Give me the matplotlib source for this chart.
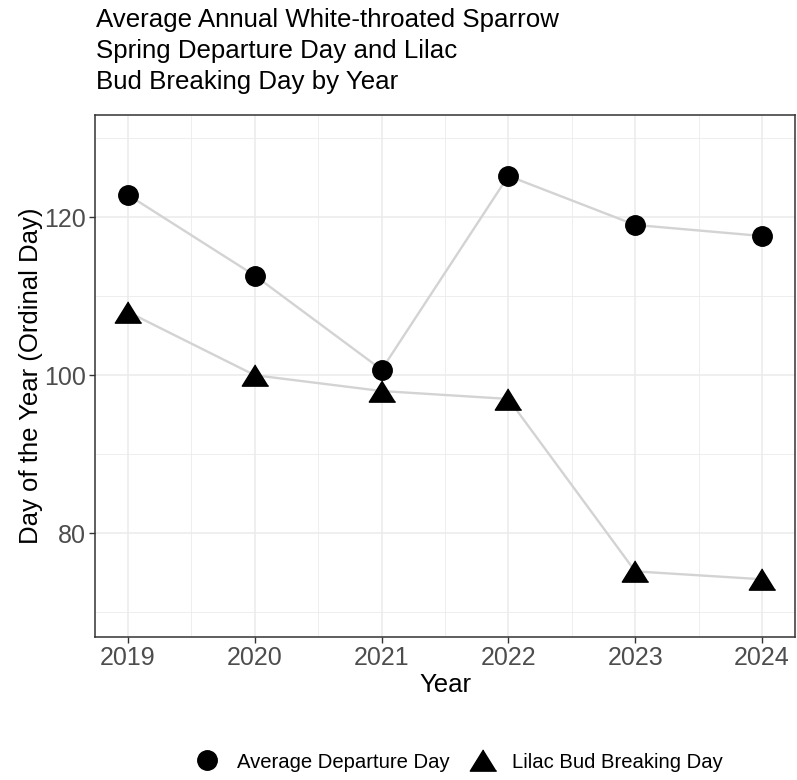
import matplotlib
matplotlib.use("Agg")
import matplotlib.pyplot as plt
import matplotlib.ticker as mticker
from matplotlib.lines import Line2D

# data
years = [2019, 2020, 2021, 2022, 2023, 2024]
departure_day = [122.8, 112.6, 100.7, 125.2, 119.0, 117.6]
lilac_day = [108.0, 100.0, 98.0, 97.0, 75.2, 74.2]

plt.rcParams["font.family"] = ["Liberation Sans", "DejaVu Sans"]

LINE_COLOR = "#d3d3d3"
GRID_COLOR = "#ebebeb"
TRI = [(0, 1), (-1.24, -1), (1.24, -1)]   # wider-than-tall triangle like ggplot shape 17

fig = plt.figure(figsize=(7.97, 7.8), dpi=100)
ax = fig.add_axes([95 / 797, 1 - 637 / 780, 700 / 797, 522 / 780])

ax.plot(years, departure_day, color=LINE_COLOR, lw=1.7, zorder=2)
ax.plot(years, lilac_day, color=LINE_COLOR, lw=1.7, zorder=2)
ax.plot(years, departure_day, linestyle="none", marker="o", markersize=14,
        color="black", zorder=3)
ax.plot(years, lilac_day, linestyle="none", marker=TRI, markersize=19,
        color="black", zorder=3)

ax.set_xlim(2018.74, 2024.26)
ax.set_ylim(66.9, 132.9)
ax.set_xticks(years)
ax.set_yticks([80, 100, 120])
ax.xaxis.set_minor_locator(mticker.FixedLocator([2019.5, 2020.5, 2021.5, 2022.5, 2023.5]))
ax.yaxis.set_minor_locator(mticker.FixedLocator([70, 90, 110, 130]))
ax.grid(which="major", color=GRID_COLOR, lw=1.1, zorder=0)
ax.grid(which="minor", color=GRID_COLOR, lw=0.6, zorder=0)
ax.set_axisbelow(True)

for s in ax.spines.values():
    s.set_color("#333333")
    s.set_linewidth(1.1)

ax.tick_params(axis="both", which="major", labelsize=18, labelcolor="#4d4d4d",
               color="#333333", length=4, width=1, pad=2.5)
ax.tick_params(axis="both", which="minor", length=0)

ax.set_xlabel("Year", fontsize=18.5, labelpad=2)
ax.set_ylabel("Day of the Year (Ordinal Day)", fontsize=18.5, labelpad=1)

fig.text(96 / 797, 1 - 8 / 780,
         "Average Annual White-throated Sparrow\nSpring Departure Day and Lilac\nBud Breaking Day by Year",
         ha="left", va="top", fontsize=18.6, linespacing=1.38)

handles = [
    Line2D([], [], linestyle="none", marker="o", markersize=14, color="black"),
    Line2D([], [], linestyle="none", marker=TRI, markersize=19, color="black"),
]
fig.legend(handles, ["Average Departure Day", "Lilac Bud Breaking Day"],
           loc="center", bbox_to_anchor=(459 / 797, 1 - 762 / 780), ncol=2,
           frameon=False, fontsize=14.6, handletextpad=0.85, columnspacing=1.05,
           handlelength=1.2)

fig.savefig("out.png", dpi=100)
